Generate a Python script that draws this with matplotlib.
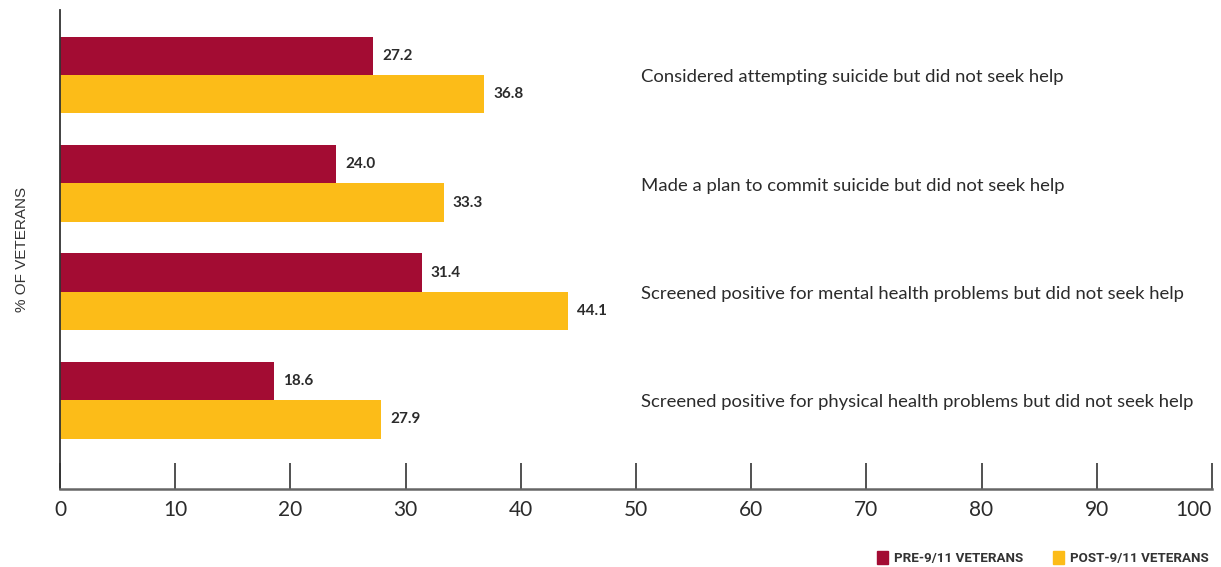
import matplotlib
matplotlib.use("Agg")
import matplotlib.pyplot as plt
from matplotlib.patches import Patch
import numpy as np

# data
categories = [
    "Considered attempting suicide but did not seek help",
    "Made a plan to commit suicide but did not seek help",
    "Screened positive for mental health problems but did not seek help",
    "Screened positive for physical health problems but did not seek help",
]
pre_911 = [27.2, 24.0, 31.4, 18.6]
post_911 = [36.8, 33.3, 44.1, 27.9]
series_names = ["PRE-9/11 VETERANS", "POST-9/11 VETERANS"]

red = "#A30C33"
yellow = "#FCBC18"
dark = "#2b2b2b"

fig = plt.figure(figsize=(12.21, 5.67), dpi=100)
ax = fig.add_axes([0.0491, 0.1376, 0.9435, 0.8448])

y = np.arange(len(categories))
h = 0.355
ax.barh(y - h / 2, pre_911, height=h, color=red)
ax.barh(y + h / 2, post_911, height=h, color=yellow)

# value labels next to bar ends
for yi, v in zip(y - h / 2, pre_911):
    ax.text(v + 0.8, yi, f"{v:.1f}", va="center", ha="left",
            fontsize=11, fontweight="bold", family="Lato", color=dark)
for yi, v in zip(y + h / 2, post_911):
    ax.text(v + 0.8, yi, f"{v:.1f}", va="center", ha="left",
            fontsize=11, fontweight="bold", family="Lato", color=dark)

# category text to the right
for yi, c in zip(y, categories):
    ax.text(50.4, yi + 0.02, c, va="center", ha="left",
            fontsize=13.3, family="Lato", color=dark)

ax.set_xlim(0, 100)
ax.set_ylim(3.82, -0.6)
ax.set_xticks(np.arange(0, 101, 10))
ax.set_yticks([])
ax.tick_params(axis="x", direction="in", length=18.5, width=1.2, color="#333333",
               pad=8, labelsize=15, labelcolor=dark)
for lab in ax.get_xticklabels():
    lab.set_family("Lato")
# keep the last label inside the figure
ax.get_xticklabels()[-1].set_horizontalalignment("right")

ax.spines["top"].set_visible(False)
ax.spines["right"].set_visible(False)
ax.spines["left"].set_color("#333333")
ax.spines["left"].set_linewidth(1.3)
ax.spines["bottom"].set_color("#666666")
ax.spines["bottom"].set_linewidth(1.8)

ax.set_ylabel("% OF VETERANS", fontsize=11, family="Liberation Sans", color="#333333", labelpad=22)

handles = [Patch(color=red, label=series_names[0]), Patch(color=yellow, label=series_names[1])]
fig.legend(handles=handles, loc="lower right", bbox_to_anchor=(1.0, -0.017), ncol=2, frameon=False,
           handlelength=0.8, handleheight=1.1, handletextpad=0.5, columnspacing=2.2,
           prop={"family": "Roboto", "size": 9.6, "weight": "bold"}, labelcolor="#333333")

fig.savefig("out.png", dpi=100)
